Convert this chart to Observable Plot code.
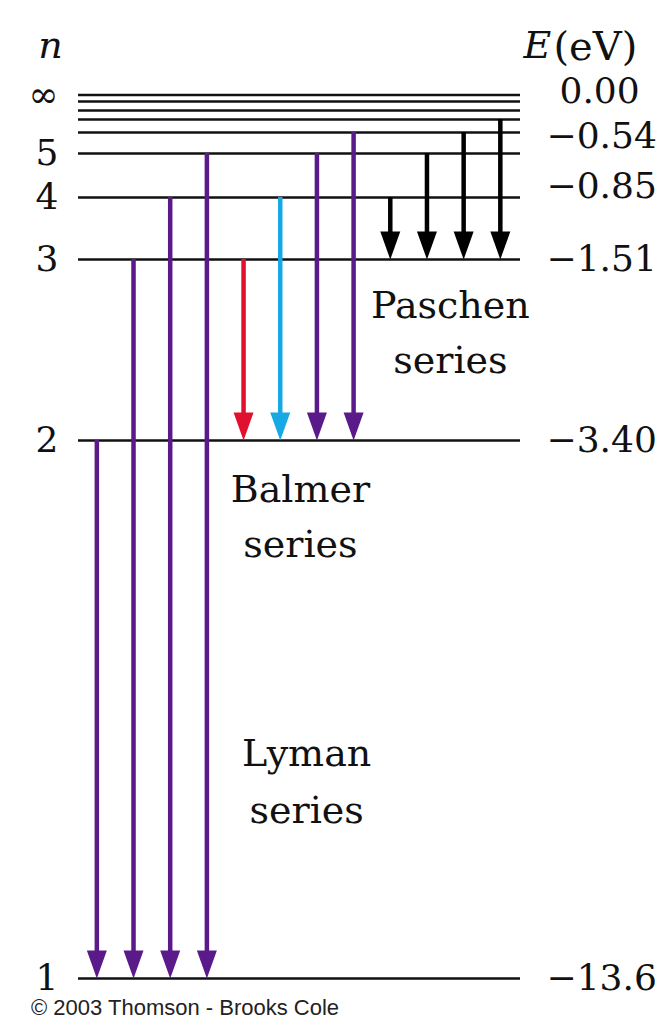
<!DOCTYPE html>
<html><head><meta charset="utf-8">
<script src="https://cdn.jsdelivr.net/npm/d3@7"></script>
<script src="https://cdn.jsdelivr.net/npm/@observablehq/plot@0.6"></script>
<style>
body{margin:0;background:#fff;}
#chart svg{display:block;}
#caption{font-family:"Liberation Sans",Arial,sans-serif;font-size:22px;color:#222;margin-left:31px;line-height:18px;white-space:nowrap;}
</style></head><body>
<div id="chart"></div>
<div id="caption">© 2003 Thomson - Brooks Cole</div>
<script>
// Energy levels (bottom to top)
const levelE = [-13.6, -3.40, -1.51, -0.85, -0.54, -0.38, -0.28, -0.21, -0.17, 0.00];
const levelLabel = ["1", "2", "3", "4", "5", "", "", "", "", "∞"];
const energyLabel = ["−13.6", "−3.40", "−1.51", "−0.85", "−0.54", "", "", "", "", "0.00"];

// Transitions (left to right)
const arrowSeries = ["Lyman","Lyman","Lyman","Lyman","Balmer","Balmer","Balmer","Balmer","Paschen","Paschen","Paschen","Paschen"];
const arrowFrom = [2, 3, 4, 5, 3, 4, 5, 6, 4, 5, 6, 7];
const arrowTo   = [1, 1, 1, 1, 2, 2, 2, 2, 3, 3, 3, 3];
const arrowBand = ["UV","UV","UV","UV","red","blue","violet","violet","IR","IR","IR","IR"];

const bands = ["UV", "red", "blue", "violet", "IR"];
const bandColors = ["#5a1a8a", "#e0112e", "#17a9e4", "#5a1a8a", "#000000"];

const levels = levelE.map((E, i) => ({E, n: levelLabel[i], label: energyLabel[i]}));
const arrows = arrowFrom.map((f, i) => ({
  i, series: arrowSeries[i], band: arrowBand[i],
  fromE: levelE[f - 1], toE: levelE[arrowTo[i] - 1]
}));

const headDown = {draw(ctx) { ctx.moveTo(0, 0); ctx.lineTo(-10, -28); ctx.lineTo(10, -28); ctx.closePath(); }};
const serif = "DejaVu Serif";
const nudge = {"0.00": -4, "−0.54": -17, "−0.85": -11};

const plot = Plot.plot({
  width: 668, height: 999,
  marginLeft: 78, marginRight: 148, marginTop: 0, marginBottom: 0,
  style: {background: "#fff", color: "#111", overflow: "visible"},
  x: {type: "linear", domain: [-0.5, 11.55], axis: null},
  y: {type: "linear", domain: levelE, range: [978, 440, 259, 197, 153, 132, 119, 110, 101, 94.5], axis: null},
  color: {domain: bands, range: bandColors},
  marks: [
    Plot.ruleY(levels, {y: "E", stroke: "#111", strokeWidth: 2.5}),
    Plot.ruleX(arrows, {x: "i", y1: "fromE", y2: "toE", stroke: "band", strokeWidth: 4.5, insetBottom: 14}),
    Plot.dot(arrows, {x: "i", y: "toE", symbol: headDown, fill: "band", stroke: "none"}),
    Plot.text(levels.filter(d => d.n), {y: "E", text: "n", frameAnchor: "left", textAnchor: "end", dx: -20,
      fontFamily: serif, fontSize: 36, fill: "#111"}),
    ...levels.filter(d => d.label).map(d => Plot.text([d], {y: "E", text: "label", frameAnchor: "right",
      textAnchor: "start", dx: d.label.startsWith("−") ? 26 : 39, dy: nudge[d.label] || 0,
      fontFamily: serif, fontSize: 36, fill: "#111"})),
    Plot.text(["n"], {text: d => d, frameAnchor: "top-left", dx: -28, dy: 31, textAnchor: "middle",
      fontFamily: serif, fontStyle: "italic", fontSize: 38, fill: "#111"}),
    Plot.text(["E"], {text: d => d, frameAnchor: "top-right", dx: 3, dy: 31, textAnchor: "start",
      fontFamily: serif, fontStyle: "italic", fontSize: 38, fill: "#111"}),
    Plot.text(["(eV)"], {text: d => d, frameAnchor: "top-right", dx: 33, dy: 31, textAnchor: "start",
      fontFamily: serif, fontSize: 40, fill: "#111"}),
    Plot.text(["Paschen\nseries"], {text: d => d, x: 9.64, y: -1.51, dy: 19, lineAnchor: "top", lineHeight: 1.45,
      textAnchor: "middle", fontFamily: serif, fontSize: 38, fill: "#111"}),
    Plot.text(["Balmer\nseries"], {text: d => d, x: 5.55, y: -3.40, dy: 22, lineAnchor: "top", lineHeight: 1.45,
      textAnchor: "middle", fontFamily: serif, fontSize: 38, fill: "#111"}),
    Plot.text(["Lyman\nseries"], {text: d => d, x: 5.72, y: -3.40, dy: 285, lineAnchor: "top", lineHeight: 1.5,
      textAnchor: "middle", fontFamily: serif, fontSize: 38, fill: "#111"})
  ]
});
document.getElementById("chart").append(plot);
</script></body></html>
